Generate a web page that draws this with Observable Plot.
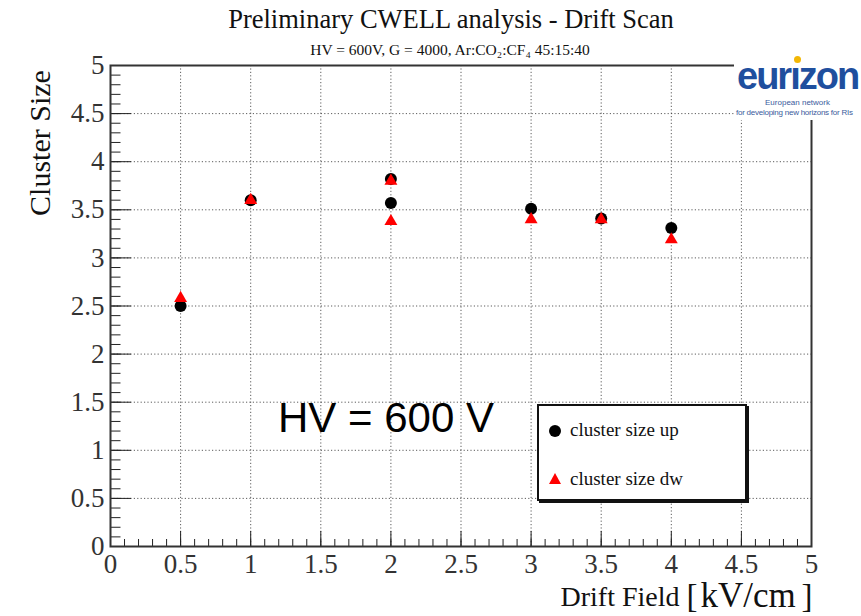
<!DOCTYPE html>
<html>
<head>
<meta charset="utf-8">
<script src="https://cdn.jsdelivr.net/npm/d3@7"></script>
<script src="https://cdn.jsdelivr.net/npm/@observablehq/plot@0.6"></script>
<style>
  body { margin: 0; background: white; }
  #wrap { position: relative; width: 861px; height: 616px; overflow: hidden; background: white; }
  #wrap svg { display: block; }
  #hv { position: absolute; left: 278px; top: 397px; font-family: "Liberation Sans", Arial, sans-serif; font-size: 42px; line-height: 42px; color: #000; white-space: nowrap; }
  #legend { position: absolute; left: 537px; top: 404px; width: 206px; height: 93px; border: 2px solid #111; box-shadow: 2px 2px 0 #111; background: white; }
  .lg-row { position: absolute; left: 0; font-family: "Liberation Serif", "Times New Roman", serif; font-size: 19px; line-height: 19px; color: #111; white-space: nowrap; }
  .lg-row svg { position: absolute; }
  #logo { position: absolute; left: 734px; top: 50px; width: 127px; height: 70px; background: white; }
  #logo .word { position: absolute; left: 3px; top: 7px; font-family: "Liberation Sans", Arial, sans-serif; font-weight: bold; font-size: 38px; line-height: 38px; letter-spacing: -2px; color: #1f4f9e; }
  #logo .dot { position: absolute; left: 60px; top: 6px; width: 7px; height: 7px; border-radius: 50%; background: #f2b705; }
  #logo .s1 { position: absolute; left: 0; width: 127px; text-align: center; top: 48px; font-family: "Liberation Sans", Arial, sans-serif; font-size: 8px; color: #3b5b9c; }
  #logo .s2 { position: absolute; left: 2px; top: 58px; font-family: "Liberation Sans", Arial, sans-serif; font-size: 8px; color: #3b5b9c; white-space: nowrap; letter-spacing: -0.25px; }
</style>
</head>
<body>
<div id="wrap"></div>
<script>
// ---- data ----
const driftField = [0.5, 1, 2, 2, 3, 3.5, 4];
const clusterSizeUp = [2.5, 3.6, 3.82, 3.57, 3.51, 3.41, 3.31];
const clusterSizeDw = [2.58, 3.6, 3.8, 3.38, 3.4, 3.4, 3.19];
const seriesNames = ["cluster size up", "cluster size dw"];
const majorTicks = [0, 0.5, 1, 1.5, 2, 2.5, 3, 3.5, 4, 4.5, 5];
const minorTicks = d3.range(0, 51).map(i => i / 10);
const tickLabels = ["0", "0.5", "1", "1.5", "2", "2.5", "3", "3.5", "4", "4.5", "5"];
const titleText = "Preliminary CWELL analysis - Drift Scan";
const subtitleText = "HV = 600V, G = 4000, Ar:CO\u2082:CF\u2084 45:15:40";
const xLabelName = "Drift Field";
const xLabelUnit = "kV/cm";
const yLabel = "Cluster Size";
const annotationText = "HV = 600 V";

const rows = driftField.map((x, i) => ({x, up: clusterSizeUp[i], dw: clusterSizeDw[i]}));
const innerTicks = majorTicks.filter(t => t > 0 && t < 5);
const fmt = d => tickLabels[majorTicks.indexOf(d)] ?? "";
const serif = "'Liberation Serif', 'Times New Roman', serif";

const chart = Plot.plot({
  width: 861,
  height: 616,
  marginLeft: 110,
  marginRight: 50,
  marginTop: 65,
  marginBottom: 70,
  x: {domain: [0, 5]},
  y: {domain: [0, 5]},
  style: {fontFamily: serif, background: "white", color: "#222", overflow: "visible"},
  marks: [
    Plot.gridX(innerTicks, {stroke: "#333", strokeOpacity: 0.8, strokeDasharray: "1.2,2.2", strokeWidth: 1}),
    Plot.gridY(innerTicks, {stroke: "#333", strokeOpacity: 0.8, strokeDasharray: "1.2,2.2", strokeWidth: 1}),
    Plot.axisX(minorTicks, {tickSize: -7, tickFormat: () => "", label: null, stroke: "#222"}),
    Plot.axisX(majorTicks, {tickSize: -15, tickFormat: () => "", label: null, stroke: "#222"}),
    Plot.axisX(majorTicks, {tickSize: 0, tickPadding: 7, tickFormat: fmt, fontSize: 27, label: null, fill: "#333"}),
    Plot.axisY(minorTicks, {tickSize: -10.5, tickFormat: () => "", label: null, stroke: "#222"}),
    Plot.axisY(majorTicks, {tickSize: -21, tickFormat: () => "", label: null, stroke: "#222"}),
    Plot.axisY(majorTicks, {tickSize: 0, tickPadding: 6, tickFormat: fmt, fontSize: 27, label: null, fill: "#333"}),
    Plot.frame({stroke: "#333", strokeWidth: 2}),
    Plot.dot(rows, {x: "x", y: "up", r: 6, fill: "black", symbol: "circle"}),
    Plot.dot(rows, {x: "x", y: "dw", r: 4.8, fill: "#ff0000", symbol: "triangle"}),
    Plot.text([titleText], {frameAnchor: "top", dx: -10, dy: -46, fontSize: 26.5, fill: "#111", lineAnchor: "middle"}),
    Plot.text([subtitleText], {frameAnchor: "top", dx: -11, dy: -15, fontSize: 15.5, fill: "#111", lineAnchor: "middle"}),
    Plot.text([yLabel], {frameAnchor: "top-left", dx: -70, dy: 77.5, rotate: -90, textAnchor: "middle", lineAnchor: "middle", fontSize: 30, fill: "#111"}),
    Plot.text([xLabelName], {frameAnchor: "bottom-left", dx: 450, dy: 51, textAnchor: "start", lineAnchor: "middle", fontSize: 28, fill: "#111"}),
    Plot.text(["["], {frameAnchor: "bottom-left", dx: 576, dy: 49.5, textAnchor: "start", lineAnchor: "middle", fontSize: 33, fill: "#111"}),
    Plot.text([xLabelUnit], {frameAnchor: "bottom-left", dx: 590, dy: 49, textAnchor: "start", lineAnchor: "middle", fontSize: 35, fill: "#111"}),
    Plot.text(["]"], {frameAnchor: "bottom-right", dx: 1, dy: 49.5, textAnchor: "end", lineAnchor: "middle", fontSize: 33, fill: "#111"})
  ]
});

const wrap = document.getElementById("wrap");
wrap.appendChild(chart);

// annotation
const hv = document.createElement("div");
hv.id = "hv";
hv.textContent = annotationText;
wrap.appendChild(hv);

// legend
const legend = document.createElement("div");
legend.id = "legend";
legend.innerHTML = `
  <div class="lg-row" style="top:14px;">
    <svg width="14" height="14" style="left:9px; top:4px;"><circle cx="7" cy="7" r="6" fill="black"/></svg>
    <span style="position:absolute; left:31px; top:0;">${seriesNames[0]}</span>
  </div>
  <div class="lg-row" style="top:63px;">
    <svg width="14" height="14" style="left:9px; top:3px;"><path d="M7,1 L13,12 L1,12 Z" fill="#ff0000"/></svg>
    <span style="position:absolute; left:31px; top:0;">${seriesNames[1]}</span>
  </div>`;
wrap.appendChild(legend);

// logo
const logo = document.createElement("div");
logo.id = "logo";
logo.innerHTML = `<div class="word">eur\u0131zon</div><div class="dot"></div>
  <div class="s1">European network</div>
  <div class="s2">for developing new horizons for RIs</div>`;
wrap.appendChild(logo);
</script>
</body>
</html>
